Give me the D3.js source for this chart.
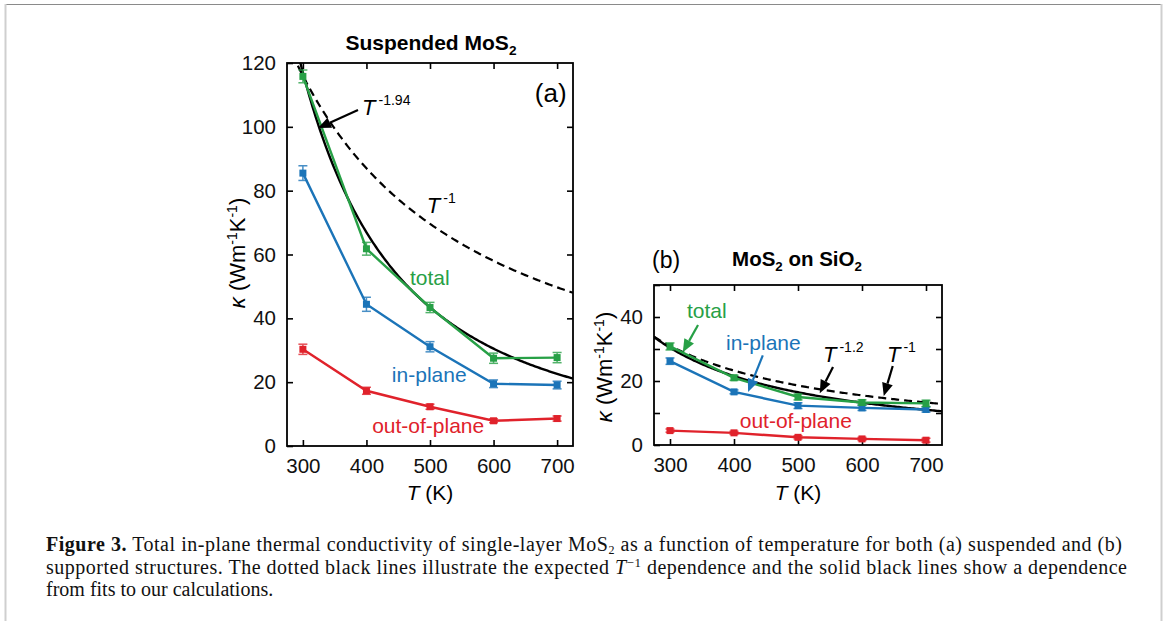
<!DOCTYPE html>
<html><head><meta charset="utf-8">
<script src="https://cdn.jsdelivr.net/npm/d3@7"></script>
<style>body{margin:0;background:#fff}svg{display:block}</style>
</head><body>
<svg id="c" width="1165" height="621"></svg>
<script>
// ---------- data ----------
const temps = [300, 400, 500, 600, 700];
const xTicks = [300, 400, 500, 600, 700];

// (a) suspended MoS2
const aTotal = [115.8, 61.8, 43.4, 27.5, 27.7];
const aTotalErr = [2.0, 2.0, 1.6, 1.6, 1.6];
const aIn = [85.5, 44.4, 31.1, 19.5, 19.1];
const aInErr = [2.3, 2.2, 1.6, 1.2, 1.2];
const aOut = [30.3, 17.3, 12.3, 7.9, 8.6];
const aOutErr = [1.6, 1.1, 0.8, 0.6, 0.8];
const aFitPrefactor = 117, aFitExp = 1.94;   // kappa = A (300/T)^n
const aInvPrefactor = 116;                    // kappa = A (300/T)
const aYTicks = [0, 20, 40, 60, 80, 100, 120];

// (b) MoS2 on SiO2
const bTotal = [30.8, 21.0, 15.0, 13.3, 13.0];
const bTotalErr = [1.1, 0.8, 0.9, 0.8, 1.0];
const bIn = [26.2, 16.6, 12.3, 11.6, 11.1];
const bInErr = [1.0, 0.6, 0.9, 0.8, 0.8];
const bOut = [4.5, 3.8, 2.4, 1.9, 1.5];
const bOutErr = [0.5, 0.5, 0.5, 0.5, 0.6];
const bFitPrefactor = 30.4, bFitExp = 1.2;
const bInvPrefactor = 31;
const bYTicks = [0, 10, 20, 30, 40, 50];
const bYLabels = [0, 20, 40];

const colors = {total: "#27a046", inplane: "#1b74b8", out: "#e0222b"};
const FONT = "'Liberation Sans', Arial, Helvetica, sans-serif";
const SERIF = "'Liberation Serif', 'Times New Roman', serif";

const svg = d3.select("#c");

// frame
svg.append("line").attr("x1",5).attr("x2",1161).attr("y1",4.5).attr("y2",4.5).attr("stroke","#8a8a8a").attr("stroke-width",1);
svg.append("line").attr("x1",5.5).attr("x2",5.5).attr("y1",4).attr("y2",621).attr("stroke","#cfcfcf").attr("stroke-width",2);
svg.append("line").attr("x1",1161.5).attr("x2",1161.5).attr("y1",4).attr("y2",621).attr("stroke","#cfcfcf").attr("stroke-width",2);

function arrow(g, x1, y1, x2, y2, color) {
  const ang = Math.atan2(y2 - y1, x2 - x1);
  const L = 13, W = 5.5;
  const bx = x2 - L * Math.cos(ang), by = y2 - L * Math.sin(ang);
  g.append("line").attr("x1", x1).attr("y1", y1).attr("x2", bx).attr("y2", by)
    .attr("stroke", color).attr("stroke-width", 2.2);
  const px = -Math.sin(ang) * W, py = Math.cos(ang) * W;
  g.append("path").attr("d", `M${x2},${y2}L${bx+px},${by+py}L${bx-px},${by-py}Z`).attr("fill", color);
}

function powLabel(g, x, y, sup, size) {
  const t = g.append("text").attr("x", x).attr("y", y).attr("font-family", FONT).attr("fill", "#000");
  t.append("tspan").attr("font-style", "italic").attr("font-size", size).text("T");
  t.append("tspan").attr("font-size", size * 0.64).attr("dx", 3).attr("dy", -size * 0.45).text(sup);
}

function panel(opt) {
  const g = svg.append("g");
  const x = d3.scaleLinear().domain([275, 725]).range([opt.x0, opt.x1]);
  const y = d3.scaleLinear().domain([0, opt.ymax]).range([opt.y1, opt.y0]);

  const clipId = "clip" + opt.id;
  svg.append("clipPath").attr("id", clipId).append("rect")
    .attr("x", opt.x0).attr("y", opt.y0).attr("width", opt.x1 - opt.x0).attr("height", opt.y1 - opt.y0);

  // axes (inward ticks, all four sides)
  const tl = 6;
  g.append("g").attr("transform", `translate(0,${opt.y1})`)
    .call(d3.axisBottom(x).tickValues(xTicks).tickSizeInner(-tl).tickSizeOuter(0).tickPadding(12).tickFormat(d3.format("d")))
    .call(s => s.select(".domain").remove());
  g.append("g").attr("transform", `translate(0,${opt.y0})`)
    .call(d3.axisTop(x).tickValues(xTicks).tickSizeInner(-tl).tickSizeOuter(0).tickFormat(""))
    .call(s => s.select(".domain").remove());
  g.append("g").attr("transform", `translate(${opt.x0},0)`)
    .call(d3.axisLeft(y).tickValues(opt.yTicks).tickSizeInner(-tl).tickSizeOuter(0).tickPadding(11)
      .tickFormat(d => opt.yLabels.includes(d) ? d : ""))
    .call(s => s.select(".domain").remove());
  g.append("g").attr("transform", `translate(${opt.x1},0)`)
    .call(d3.axisRight(y).tickValues(opt.yTicks.filter(d => d > 0 && d < opt.ymax)).tickSizeInner(-tl).tickSizeOuter(0).tickFormat(""))
    .call(s => s.select(".domain").remove());
  g.selectAll(".tick line").attr("stroke", "#000").attr("stroke-width", 1.6);
  g.selectAll(".tick text").attr("font-family", FONT).attr("font-size", 20.5).attr("fill", "#111");
  g.append("rect").attr("x", opt.x0).attr("y", opt.y0).attr("width", opt.x1 - opt.x0).attr("height", opt.y1 - opt.y0)
    .attr("fill", "none").attr("stroke", "#000").attr("stroke-width", 1.8);

  // fit curves
  const Ts = d3.range(275, 725.5, 2.5);
  const plot = g.append("g").attr("clip-path", `url(#${clipId})`);
  plot.append("path").datum(Ts)
    .attr("d", d3.line().x(t => x(t)).y(t => y(opt.invA * 300 / t)))
    .attr("fill", "none").attr("stroke", "#000").attr("stroke-width", 2.2).attr("stroke-dasharray", "8,5");
  plot.append("path").datum(Ts)
    .attr("d", d3.line().x(t => x(t)).y(t => y(opt.fitA * Math.pow(300 / t, opt.fitN))))
    .attr("fill", "none").attr("stroke", "#000").attr("stroke-width", 2.4);

  // series
  opt.series.forEach(s => {
    const pts = temps.map((t, i) => ({t, v: s.v[i], e: s.e[i]}));
    const sg = plot.append("g");
    sg.append("path").datum(pts).attr("d", d3.line().x(d => x(d.t)).y(d => y(d.v)))
      .attr("fill", "none").attr("stroke", s.c).attr("stroke-width", 2.4);
    const eb = sg.selectAll("g.eb").data(pts).join("g").attr("stroke", s.c).attr("stroke-width", 1.5).attr("opacity", 0.8);
    eb.append("line").attr("x1", d => x(d.t)).attr("x2", d => x(d.t)).attr("y1", d => y(d.v - d.e)).attr("y2", d => y(d.v + d.e));
    eb.append("line").attr("x1", d => x(d.t) - 4.5).attr("x2", d => x(d.t) + 4.5).attr("y1", d => y(d.v - d.e)).attr("y2", d => y(d.v - d.e));
    eb.append("line").attr("x1", d => x(d.t) - 4.5).attr("x2", d => x(d.t) + 4.5).attr("y1", d => y(d.v + d.e)).attr("y2", d => y(d.v + d.e));
    sg.selectAll("rect").data(pts).join("rect")
      .attr("x", d => x(d.t) - 3.5).attr("y", d => y(d.v) - 3.5).attr("width", 7).attr("height", 7).attr("fill", s.c);
  });

  // annotations
  opt.annot(g, x, y);

  // axis labels
  const xl = g.append("text").attr("x", (opt.x0 + opt.x1) / 2).attr("y", opt.xLabelY)
    .attr("text-anchor", "middle").attr("font-family", FONT).attr("font-size", 21);
  xl.append("tspan").attr("font-style", "italic").text("T");
  xl.append("tspan").text(" (K)");

  const yl = g.append("text").attr("transform", `translate(${opt.yLabelX},${opt.yLabelY}) rotate(-90)`)
    .attr("text-anchor", "middle").attr("font-family", FONT).attr("font-size", 22);
  yl.append("tspan").attr("font-style", "italic").text("κ");
  yl.append("tspan").text(" (Wm");
  yl.append("tspan").attr("font-size", 14).attr("dy", -8).text("-1");
  yl.append("tspan").attr("dy", 8).text("K");
  yl.append("tspan").attr("font-size", 14).attr("dy", -8).text("-1");
  yl.append("tspan").attr("dy", 8).text(")");

  // title
  const tt = g.append("text").attr("x", opt.titleX).attr("y", opt.titleY).attr("text-anchor", "middle")
    .attr("font-family", FONT).attr("font-weight", "bold").attr("font-size", opt.titleSize);
  opt.title.forEach(p => {
    if (p.sub) { tt.append("tspan").attr("font-size", opt.titleSize * 0.65).attr("dy", 5).text(p.t); }
    else { tt.append("tspan").attr("dy", p.after ? -5 : 0).text(p.t); }
  });
}

panel({
  id: "a", x0: 287, x1: 573, y0: 63, y1: 446, ymax: 120,
  yTicks: aYTicks, yLabels: aYTicks,
  fitA: aFitPrefactor, fitN: aFitExp, invA: aInvPrefactor,
  series: [
    {v: aOut, e: aOutErr, c: colors.out},
    {v: aIn, e: aInErr, c: colors.inplane},
    {v: aTotal, e: aTotalErr, c: colors.total}
  ],
  xLabelY: 500, yLabelX: 245, yLabelY: 253,
  titleX: 431, titleY: 50, titleSize: 21,
  title: [{t: "Suspended MoS"}, {t: "2", sub: true}],
  annot: (g, x, y) => {
    powLabel(g, x(393), y(103.7), "-1.94", 22);
    arrow(g, x(386.7), y(105.3), x(323.8), y(99.6), "#000");
    powLabel(g, x(495), y(73), "-1", 22);
    g.append("text").attr("x", x(665)).attr("y", y(107.8)).attr("font-family", FONT).attr("font-size", 26).text("(a)");
    g.append("text").attr("x", x(468.5)).attr("y", y(50.4)).attr("font-family", FONT).attr("font-size", 21).attr("fill", colors.total).text("total");
    g.append("text").attr("x", x(440)).attr("y", y(19.9)).attr("font-family", FONT).attr("font-size", 21).attr("fill", colors.inplane).text("in-plane");
    g.append("text").attr("x", x(409)).attr("y", y(4.1)).attr("font-family", FONT).attr("font-size", 21).attr("fill", colors.out).text("out-of-plane");
  }
});

panel({
  id: "b", x0: 654, x1: 942, y0: 285, y1: 445, ymax: 50,
  yTicks: bYTicks, yLabels: bYLabels,
  fitA: bFitPrefactor, fitN: bFitExp, invA: bInvPrefactor,
  series: [
    {v: bOut, e: bOutErr, c: colors.out},
    {v: bIn, e: bInErr, c: colors.inplane},
    {v: bTotal, e: bTotalErr, c: colors.total}
  ],
  xLabelY: 500, yLabelX: 612, yLabelY: 367,
  titleX: 797, titleY: 266, titleSize: 20.5,
  title: [{t: "MoS"}, {t: "2", sub: true}, {t: " on SiO", after: true}, {t: "2", sub: true}],
  annot: (g, x, y) => {
    g.append("text").attr("x", 652).attr("y", 268).attr("font-family", FONT).attr("font-size", 23).text("(b)");
    g.append("text").attr("x", x(326.6)).attr("y", y(39.7)).attr("font-family", FONT).attr("font-size", 21).attr("fill", colors.total).text("total");
    arrow(g, x(343.8), y(37.5), x(320), y(29), colors.total);
    g.append("text").attr("x", x(387.5)).attr("y", y(29.7)).attr("font-family", FONT).attr("font-size", 21).attr("fill", colors.inplane).text("in-plane");
    arrow(g, x(445), y(28), x(422), y(16.6), colors.inplane);
    powLabel(g, x(539), y(26), "-1.2", 22);
    arrow(g, x(554.7), y(24.4), x(534), y(16.2), "#000");
    powLabel(g, x(639), y(26), "-1", 22);
    arrow(g, x(648), y(24.7), x(634), y(15.3), "#000");
    g.append("text").attr("x", x(409)).attr("y", y(5.3)).attr("font-family", FONT).attr("font-size", 21).attr("fill", colors.out).text("out-of-plane");
  }
});

// caption
const cap = svg.append("g").attr("font-family", SERIF).attr("font-size", 20).attr("fill", "#111");
const l1 = cap.append("text").attr("x", 46).attr("y", 551).attr("textLength", 1076).attr("lengthAdjust", "spacing");
l1.append("tspan").attr("font-weight", "bold").text("Figure 3.");
l1.append("tspan").text(" Total in-plane thermal conductivity of single-layer MoS");
l1.append("tspan").attr("font-size", 12).attr("dy", 2.5).text("2");
l1.append("tspan").attr("dy", -2.5).text(" as a function of temperature for both (a) suspended and (b)");
const l2 = cap.append("text").attr("x", 46).attr("y", 574).attr("textLength", 1081).attr("lengthAdjust", "spacing");
l2.append("tspan").text("supported structures. The dotted black lines illustrate the expected ");
l2.append("tspan").attr("font-style", "italic").text("T");
l2.append("tspan").attr("font-size", 13).attr("dy", -7).text("−1");
l2.append("tspan").attr("dy", 7).text(" dependence and the solid black lines show a dependence");
cap.append("text").attr("x", 46).attr("y", 596).text("from fits to our calculations.");
</script>
</body></html>
